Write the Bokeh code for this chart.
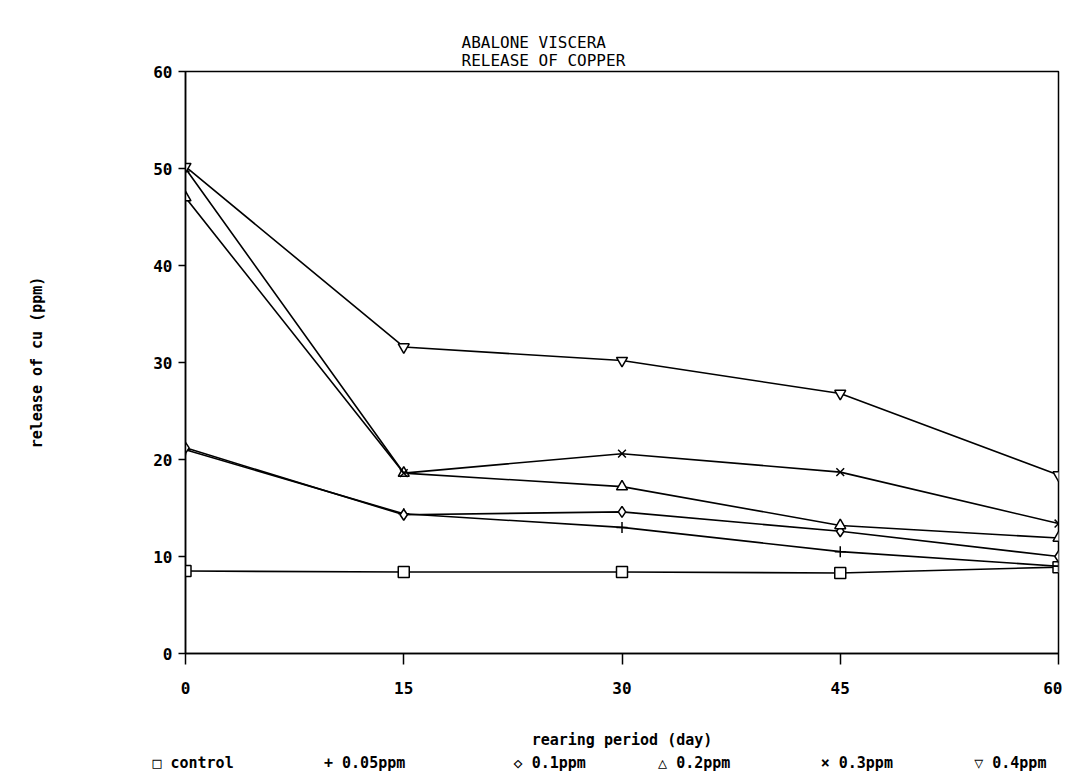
from bokeh.plotting import figure
from bokeh.models import Title, FixedTicker, Range1d
from bokeh.embed import file_html
from bokeh.resources import INLINE

days = [0, 15, 30, 45, 60]
control = [8.5, 8.4, 8.4, 8.3, 8.9]
ppm005 = [21.0, 14.4, 13.0, 10.5, 9.0]
ppm01 = [21.2, 14.3, 14.6, 12.6, 10.0]
ppm02 = [47.0, 18.6, 17.2, 13.2, 11.9]
ppm03 = [50.0, 18.6, 20.6, 18.7, 13.4]
ppm04 = [50.2, 31.6, 30.2, 26.8, 18.4]

series_names = ["control", "0.05ppm", "0.1ppm", "0.2ppm", "0.3ppm", "0.4ppm"]
series_vals = [control, ppm005, ppm01, ppm02, ppm03, ppm04]
markers = ["square", "cross", "diamond", "triangle", "x", "inverted_triangle"]
legend_symbols = ["\u25a1", "+", "\u25c7", "\u25b3", "\u00d7", "\u25bd"]
legend_gaps = [10, 12, 8, 10, 9, 5]

x_ticks = [0, 15, 30, 45, 60]
y_ticks = [0, 10, 20, 30, 40, 50, 60]

NB = "\u00a0"
title_text = "ABALONE VISCERA\nRELEASE OF COPPER"
x_label = "rearing period (day)"
legend_line = "".join(sym + NB + name + NB * gap
                      for sym, name, gap in zip(legend_symbols, series_names, legend_gaps))

FONT = "DejaVu Sans Mono"

p = figure(frame_width=873, frame_height=582, output_backend="svg", toolbar_location=None,
           x_range=Range1d(0, 60), y_range=Range1d(0, 60),
           min_border_left=185, min_border_right=4, min_border_top=71, min_border_bottom=0)
p.background_fill_color = "white"
p.border_fill_color = "white"
p.outline_line_color = "black"
p.outline_line_width = 1.5
p.grid.visible = False

for name, vals, mk in zip(series_names, series_vals, markers):
    p.line(days, vals, line_color="black", line_width=1.6)
    p.scatter(days, vals, marker=mk, size=11, line_color="black", line_width=1.5,
              fill_color="white")

for ax in (p.xaxis[0], p.yaxis[0]):
    ax.axis_line_color = "black"
    ax.axis_line_width = 1.5
    ax.major_tick_line_color = "black"
    ax.major_tick_line_width = 1.5
    ax.minor_tick_line_color = None
    ax.major_label_text_font = FONT
    ax.major_label_text_font_style = "bold"
    ax.major_label_text_font_size = "16px"
    ax.major_label_text_color = "black"
    ax.axis_label_text_font = FONT
    ax.axis_label_text_font_style = "bold"
    ax.axis_label_text_font_size = "15px"
    ax.axis_label_text_color = "black"

p.xaxis.ticker = FixedTicker(ticks=x_ticks)
p.yaxis.ticker = FixedTicker(ticks=y_ticks)
p.xaxis.major_tick_in = 0
p.xaxis.major_tick_out = 11
p.yaxis.major_tick_in = 0
p.yaxis.major_tick_out = 7
p.xaxis.major_label_standoff = 17
p.yaxis.major_label_standoff = 6
p.xaxis.axis_label = x_label + "\n" + legend_line
p.xaxis.axis_label_text_line_height = 1.3
p.yaxis.axis_label = "release of cu (ppm)"
p.xaxis.axis_label_standoff = 34
p.yaxis.axis_label_standoff = 104

title = Title(text=title_text, align="left", offset=276, text_font=FONT,
              text_font_size="16px", text_font_style="normal", text_color="black",
              text_line_height=0.95, standoff=0, vertical_align="top")
p.add_layout(title, "above")

open("out.html", "w").write(file_html(p, INLINE))
